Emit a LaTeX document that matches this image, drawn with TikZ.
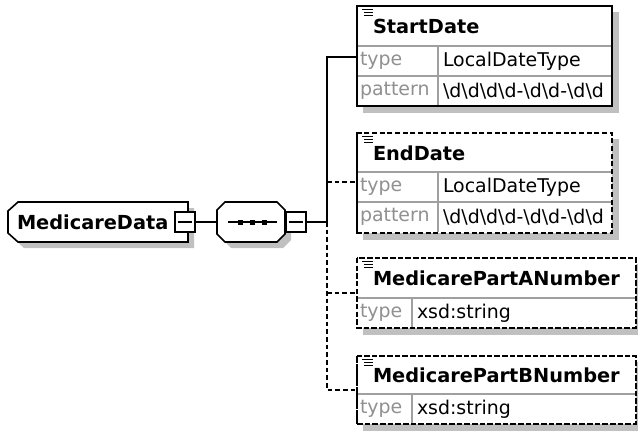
\documentclass[tikz,border=0pt]{standalone}
\usepackage{fontspec}
\setmainfont{DejaVu Sans}
\definecolor{shadowgray}{HTML}{C0C0C0}
\definecolor{sepgray}{HTML}{A0A0A0}
\definecolor{lblgray}{HTML}{909090}
\newcommand\bsd{\textbackslash d}
\newcommand\pat{\bsd\bsd\bsd\bsd-\bsd\bsd-\bsd\bsd}
\begin{document}
\begin{tikzpicture}[x=0.75pt,y=-0.75pt,
  every node/.style={inner sep=0pt, outer sep=0pt},
  shadowfill/.style={fill=shadowgray, draw=none},
  elem/.style={draw=black, line width=1.2pt, fill=white, rectangle, anchor=north west},
  opt/.style={dash pattern=on 3.5pt off 2.25pt},
  sep/.style={draw=sepgray, line width=0.8pt},
  hdr/.style={anchor=west, font=\fontsize{14.5}{17}\selectfont\bfseries},
  lbl/.style={anchor=west, text=lblgray, font=\fontsize{14.2}{17}\selectfont},
  val/.style={anchor=west, font=\fontsize{14.2}{17}\selectfont},
  conn/.style={line width=1.2pt, draw=black},
  minusbox/.style={draw=black, line width=1.1pt, fill=white, minimum size=15pt, rectangle},
  docicon/.style={line width=0.9pt, draw=black},
]
\useasboundingbox (0,0) rectangle (638,431);
\clip (0,0) rectangle (638,431);

% ---------- shadows ----------
\fill[shadowfill] (24,208) -- (194,208) -- (194,248) -- (24,248) -- (14,239) -- (14,217) -- cycle;
\fill[shadowfill] (231,208) -- (283,208) -- (291,216) -- (291,240) -- (283,248) -- (231,248) -- (223,240) -- (223,216) -- cycle;
\fill[shadowfill] (363,12) rectangle (619,113);
\fill[shadowfill] (363,139) rectangle (619,240);
\fill[shadowfill] (363,264) rectangle (642,335);
\fill[shadowfill] (363,362) rectangle (642,431);

% ---------- MedicareData ----------
\draw[line width=1.2pt, fill=white] (18,202) -- (188,202) -- (188,242) -- (18,242) -- (8,233) -- (8,211) -- cycle;
\node[hdr] (md) at (17,222) {MedicareData};
\node[minusbox] (mdm) at (185,222) {};
\draw[line width=1.1pt] ([xshift=-5.5pt]mdm.center) -- ([xshift=5.5pt]mdm.center);

% ---------- sequence ----------
\draw[line width=1.2pt, fill=white] (225,202) -- (277,202) -- (285,210) -- (285,234) -- (277,242) -- (225,242) -- (217,234) -- (217,210) -- cycle;
\coordinate (seqL) at (217,222);
\coordinate (seq) at (252,222);
\draw[line width=1.1pt] (228,222) -- (277,222);
\fill (237.5,219.5) rectangle (242.5,224.5);
\fill (249.5,219.5) rectangle (254.5,224.5);
\fill (261.5,219.5) rectangle (266.5,224.5);
\node[minusbox] (seqm) at (296,222) {};
\draw[line width=1.1pt] ([xshift=-5.5pt]seqm.center) -- ([xshift=5.5pt]seqm.center);

% ---------- StartDate ----------
\node[elem, minimum width=191.25pt, minimum height=75pt] (sd) at (357,6) {};
\draw[sep] (357,46) -- (612,46);
\draw[sep] (357,76) -- (612,76);
\draw[sep] (438,46) -- (438,106);
\draw[line width=1.2pt] (357,6) rectangle (612,106);
\draw[docicon] (362,9.5) -- (373,9.5) (364,12.5) -- (373,12.5) (364,15.5) -- (373,15.5);
\node[hdr] (sdh) at (373,26) {StartDate};
\node[lbl] (sdtl) at (360,61) {type};
\node[val] (sdtv) at (443,61) {LocalDateType};
\node[lbl] (sdpl) at (360,91) {pattern};
\node[val] (sdpv) at (443,91) {\pat};

% ---------- EndDate ----------
\node[elem, opt, minimum width=191.25pt, minimum height=75pt] (ed) at (357,133) {};
\draw[sep] (358,172) -- (611,172);
\draw[sep] (358,202) -- (611,202);
\draw[sep] (438,172) -- (438,232);
\draw[line width=1.2pt, opt] (357,133) rectangle (612,233);
\draw[docicon] (362,136.5) -- (373,136.5) (364,139.5) -- (373,139.5) (364,142.5) -- (373,142.5);
\node[hdr] (edh) at (373,153) {EndDate};
\node[lbl] (edtl) at (360,187) {type};
\node[val] (edtv) at (443,187) {LocalDateType};
\node[lbl] (edpl) at (360,217) {pattern};
\node[val] (edpv) at (443,217) {\pat};

% ---------- MedicarePartANumber ----------
\node[elem, opt, minimum width=209.25pt, minimum height=52.5pt] (pa) at (357,258) {};
\draw[sep] (358,298) -- (635,298);
\draw[sep] (412,298) -- (412,327);
\draw[line width=1.2pt, opt] (357,258) rectangle (636,328);
\draw[docicon] (362,261.5) -- (373,261.5) (364,264.5) -- (373,264.5) (364,267.5) -- (373,267.5);
\node[hdr] (pah) at (373,278) {MedicarePartANumber};
\node[lbl] (patl) at (360,313) {type};
\node[val] (patv) at (417,313) {xsd:string};

% ---------- MedicarePartBNumber ----------
\node[elem, opt, minimum width=209.25pt, minimum height=51pt] (pb) at (357,356) {};
\draw[sep] (358,394) -- (635,394);
\draw[sep] (412,394) -- (412,423);
\draw[line width=1.2pt, opt] (357,356) rectangle (636,424);
\draw[docicon] (362,359.5) -- (373,359.5) (364,362.5) -- (373,362.5) (364,365.5) -- (373,365.5);
\node[hdr] (pbh) at (373,375) {MedicarePartBNumber};
\node[lbl] (pbtl) at (360,409) {type};
\node[val] (pbtv) at (417,409) {xsd:string};

% ---------- connectors ----------
\coordinate (j) at (327,222);
\coordinate (edj) at (327,182);
\coordinate (paj) at (327,293);
\coordinate (sdin) at (357,57);
\coordinate (edin) at (357,182);
\coordinate (pain) at (357,293);
\coordinate (pbin) at (357,390);
\draw[conn] (mdm.east) -- (seqL);
\draw[conn] (seqm.east) -- (j);
\draw[conn] (j) |- (sdin);
\draw[conn, opt] (j) |- (pbin);
\draw[conn, opt] (edj) -- (edin);
\draw[conn, opt] (paj) -- (pain);
\end{tikzpicture}
\end{document}
